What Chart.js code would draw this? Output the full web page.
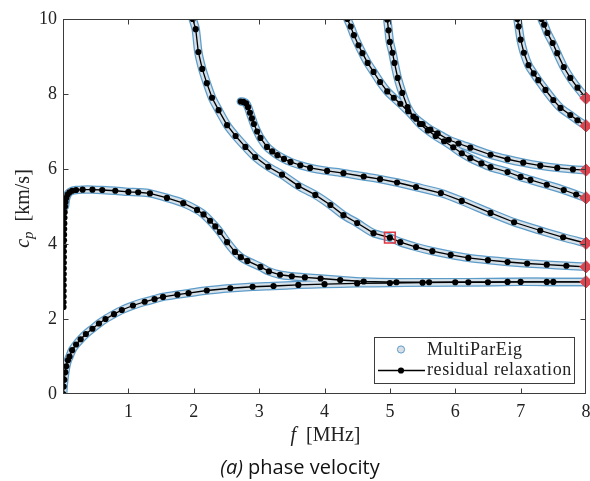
<!DOCTYPE html>
<html>
<head>
<meta charset="utf-8">
<title>Phase velocity</title>
<script src="https://cdn.jsdelivr.net/npm/chart.js@4.4.1/dist/chart.umd.min.js"></script>
<style>
  html, body { margin: 0; padding: 0; background: #fff; overflow: hidden; }
  #wrap { position: relative; width: 590px; height: 481px; }
  #chart { display: block; }
  #caption {
    position: absolute; left: 0; top: 454px; width: 600px; text-align: center;
    font-family: "Open Sans", "DejaVu Sans", sans-serif; font-size: 20px; color: #111;
    line-height: 26px;
  }
</style>
</head>
<body>
<div id="wrap">
  <canvas id="chart" width="590" height="481"></canvas>
  <div id="caption"><i>(a)</i> phase velocity</div>
</div>
<script>
// Dispersion curves: frequency f [MHz] vs phase velocity c_p [km/s]

// fundamental antisymmetric mode
const modeA0 = [
  [0.003, 0.0], [0.01, 0.2], [0.02, 0.38], [0.035, 0.58], [0.05, 0.74], [0.075, 0.9],
  [0.1, 1.0], [0.14, 1.17], [0.2, 1.32], [0.27, 1.46], [0.35, 1.6], [0.45, 1.74],
  [0.55, 1.88], [0.65, 2.0], [0.78, 2.13], [0.9, 2.24], [1.07, 2.36], [1.25, 2.46],
  [1.4, 2.53], [1.53, 2.59], [1.75, 2.65], [1.92, 2.69], [2.2, 2.76], [2.56, 2.82],
  [2.9, 2.86], [3.22, 2.88], [3.6, 2.91], [4.0, 2.93], [4.5, 2.95], [5.0, 2.96],
  [5.5, 2.97], [6.0, 2.98], [6.5, 2.98], [7.0, 2.99], [7.5, 2.99], [8.0, 2.99]
];

// low-frequency branch found only by residual relaxation
const modeS0Low = [
  [0.008, 2.32], [0.008, 2.45], [0.009, 2.6], [0.009, 2.75], [0.01, 2.9], [0.01, 3.05],
  [0.011, 3.2], [0.011, 3.35], [0.012, 3.5], [0.012, 3.65], [0.013, 3.8], [0.014, 3.95],
  [0.015, 4.1], [0.016, 4.25], [0.018, 4.4], [0.02, 4.55], [0.022, 4.7], [0.025, 4.85]
];

// fundamental symmetric mode
const modeS0 = [
  [0.03, 5.0], [0.038, 5.12], [0.05, 5.23], [0.07, 5.32], [0.1, 5.38], [0.14, 5.42],
  [0.2, 5.44], [0.3, 5.45], [0.45, 5.45], [0.6, 5.44], [0.8, 5.42], [1.0, 5.39],
  [1.15, 5.38], [1.33, 5.35], [1.59, 5.23], [1.84, 5.09], [2.05, 4.91], [2.15, 4.79],
  [2.25, 4.62], [2.33, 4.47], [2.4, 4.32], [2.51, 4.05], [2.63, 3.79], [2.72, 3.65],
  [2.82, 3.55], [3.02, 3.39], [3.15, 3.27], [3.32, 3.18], [3.5, 3.14], [3.7, 3.11],
  [3.94, 3.08], [4.24, 3.04], [4.6, 3.0], [5.1, 2.98], [5.6, 2.98], [6.2, 2.98],
  [6.8, 2.99], [7.4, 2.99], [8.0, 2.99]
];

// higher-order modes
const mode1 = [
  [1.985, 10.0], [2.03, 9.73], [2.07, 9.12], [2.13, 8.67], [2.2, 8.29], [2.28, 7.9],
  [2.38, 7.57], [2.51, 7.17], [2.64, 6.88], [2.79, 6.59], [2.94, 6.32], [3.14, 6.06],
  [3.35, 5.85], [3.6, 5.55], [3.86, 5.31], [4.09, 5.04], [4.29, 4.77], [4.5, 4.56],
  [4.75, 4.29], [5.0, 4.17], [5.16, 4.05], [5.4, 3.92], [5.65, 3.81], [5.93, 3.71],
  [6.2, 3.63], [6.5, 3.57], [6.8, 3.52], [7.1, 3.48], [7.4, 3.45], [7.7, 3.42], [8.0, 3.39]
];

const mode2 = [
  [2.72, 7.8], [2.76, 7.79], [2.8, 7.75], [2.83, 7.65], [2.86, 7.5], [2.89, 7.35],
  [2.92, 7.2], [2.97, 7.0], [3.02, 6.83], [3.12, 6.59], [3.2, 6.47], [3.28, 6.37],
  [3.38, 6.27], [3.48, 6.19], [3.63, 6.1], [3.78, 6.03], [4.04, 5.95], [4.29, 5.89],
  [4.6, 5.8], [4.85, 5.73], [5.11, 5.64], [5.4, 5.52], [5.78, 5.36], [6.1, 5.15],
  [6.54, 4.83], [6.9, 4.58], [7.3, 4.36], [7.65, 4.18], [8.0, 4.02]
];

const mode3 = [
  [4.35, 10.0], [4.4, 9.8], [4.45, 9.57], [4.52, 9.3], [4.58, 9.09], [4.66, 8.83],
  [4.75, 8.59], [4.85, 8.32], [4.96, 8.07], [5.06, 7.9], [5.16, 7.74], [5.28, 7.54],
  [5.4, 7.34], [5.5, 7.2], [5.62, 7.05], [5.73, 6.95], [5.9, 6.78], [6.05, 6.68],
  [6.23, 6.57], [6.54, 6.38], [6.8, 6.26], [7.04, 6.17], [7.3, 6.09], [7.56, 6.03],
  [7.8, 5.99], [8.0, 5.97]
];

const mode4 = [
  [4.96, 9.99], [4.98, 9.7], [5.0, 9.39], [5.04, 9.1], [5.07, 8.83], [5.12, 8.43],
  [5.19, 8.03], [5.27, 7.65], [5.36, 7.4], [5.46, 7.2], [5.58, 7.03], [5.7, 6.88],
  [5.83, 6.74], [5.97, 6.58], [6.1, 6.42], [6.23, 6.29], [6.4, 6.15], [6.54, 6.05],
  [6.8, 5.92], [7.0, 5.79], [7.15, 5.71], [7.4, 5.58], [7.66, 5.44], [7.85, 5.32], [8.0, 5.23]
];

const mode5 = [
  [6.95, 10.0], [6.97, 9.8], [7.0, 9.45], [7.05, 9.1], [7.12, 8.77], [7.2, 8.55],
  [7.27, 8.37], [7.38, 8.11], [7.5, 7.84], [7.61, 7.63], [7.76, 7.44], [7.87, 7.3], [8.0, 7.15]
];

const mode6 = [
  [7.32, 10.0], [7.36, 9.85], [7.41, 9.63], [7.49, 9.36], [7.56, 9.09], [7.66, 8.72],
  [7.76, 8.43], [7.87, 8.17], [8.0, 7.89]
];

// velocities at the upper frequency limit
const endF = [8, 8, 8, 8, 8, 8, 8];
const endC = [7.89, 7.15, 5.97, 5.23, 4.02, 3.39, 2.99];

// highlighted sample point
const markF = [5.0];
const markC = [4.17];

const xTicks = [0, 1, 2, 3, 4, 5, 6, 7, 8];
const yTicks = [0, 2, 4, 6, 8, 10];

const SERIF = '"Liberation Serif", "Times New Roman", serif';
const BAND_EDGE = '#5d9cc9';
const BAND_FILL = '#d6e1ea';

// plot area edges in canvas pixels
const PLOT_LEFT = 63, PLOT_TOP = 19, PLOT_RIGHT = 586, PLOT_BOTTOM = 394;

const toXY = pts => pts.map(([x, y]) => ({ x, y }));

const multiParEig = [modeA0, modeS0, mode1, mode2, mode3, mode4, mode5, mode6];
const relaxation = [modeA0, modeS0Low.concat(modeS0), mode1, mode2, mode3, mode4, mode5, mode6];

const datasets = [];

// red markers on top
datasets.push({
  label: 'end', data: endF.map((f, i) => ({ x: f, y: endC[i] })),
  showLine: false, pointStyle: 'rectRot', pointRadius: 6.2,
  pointBackgroundColor: '#dc4450', pointBorderColor: '#dc4450', pointBorderWidth: 1,
  order: -2, clip: false
});
datasets.push({
  label: 'mark', data: markF.map((f, i) => ({ x: f, y: markC[i] })),
  showLine: false, pointStyle: 'rect', pointRadius: 7.5,
  pointBackgroundColor: 'rgba(0,0,0,0)', pointBorderColor: '#e0353f', pointBorderWidth: 1.6,
  order: -1, clip: false
});

// residual relaxation: black line with dots
relaxation.forEach(pts => datasets.push({
  label: 'residual relaxation', data: toXY(pts), showLine: true, tension: 0,
  borderColor: '#000', borderWidth: 1.3,
  pointRadius: 3.1, pointBackgroundColor: '#000', pointBorderWidth: 0,
  order: 0, clip: 0
}));

// MultiParEig: band of circles (light interior, blue rim)
multiParEig.forEach(pts => datasets.push({
  label: 'MultiParEig', data: toXY(pts), showLine: true, tension: 0.25,
  borderColor: BAND_FILL, borderWidth: 6, pointRadius: 0,
  borderCapStyle: 'round', borderJoinStyle: 'round', order: 1, clip: 0
}));
multiParEig.forEach(pts => datasets.push({
  label: 'MultiParEig', data: toXY(pts), showLine: true, tension: 0.25,
  borderColor: BAND_EDGE, borderWidth: 8.5, pointRadius: 0,
  borderCapStyle: 'round', borderJoinStyle: 'round', order: 2, clip: 0
}));

// pin the plot area so tick-label overhang does not shrink it
const plotAreaPlugin = {
  id: 'plotArea',
  afterLayout(chart) {
    const a = chart.chartArea, { x, y } = chart.scales;
    a.left = PLOT_LEFT; a.right = PLOT_RIGHT; a.top = PLOT_TOP; a.bottom = PLOT_BOTTOM;
    a.width = a.right - a.left; a.height = a.bottom - a.top;
    x.left = a.left; x.right = a.right; x.width = a.width;
    y.top = a.top; y.bottom = a.bottom; y.height = a.height;
    [x, y].forEach(s => { s.configure(); s._labelItems = null; s._gridLineItems = null; });
  }
};

// frame with inward tick marks on all four sides
const framePlugin = {
  id: 'frame',
  afterDatasetsDraw(chart) {
    const { ctx, chartArea: a, scales: { x, y } } = chart;
    const L = Math.round(a.left) + 0.5, R = Math.round(a.right) - 0.5;
    const T = Math.round(a.top) + 0.5, B = Math.round(a.bottom) - 0.5;
    ctx.save();
    ctx.strokeStyle = '#3c3c3c';
    ctx.lineWidth = 1;
    ctx.strokeRect(L, T, R - L, B - T);
    const len = 5;
    ctx.beginPath();
    xTicks.slice(1, -1).forEach(v => {
      const px = Math.round(x.getPixelForValue(v)) + 0.5;
      ctx.moveTo(px, B); ctx.lineTo(px, B - len);
      ctx.moveTo(px, T); ctx.lineTo(px, T + len);
    });
    yTicks.slice(1, -1).forEach(v => {
      const py = Math.round(y.getPixelForValue(v)) + 0.5;
      ctx.moveTo(L, py); ctx.lineTo(L + len, py);
      ctx.moveTo(R, py); ctx.lineTo(R - len, py);
    });
    ctx.stroke();
    ctx.restore();
  }
};

// axis titles with italic symbols and subscript
const titlePlugin = {
  id: 'titles',
  afterDraw(chart) {
    const { ctx, chartArea: a } = chart;
    ctx.save();
    ctx.fillStyle = '#222';
    ctx.textBaseline = 'alphabetic';
    // x title: f [MHz]
    const it = 'italic 20px ' + SERIF, rm = '20px ' + SERIF, sub = 'italic 15px ' + SERIF;
    ctx.font = it; const wf = ctx.measureText('f').width;
    ctx.font = rm; const wr = ctx.measureText('  [MHz]').width;
    const x0 = (a.left + a.right) / 2 - (wf + wr) / 2 + 1;
    ctx.font = it; ctx.fillText('f', x0, 441);
    ctx.font = rm; ctx.fillText('  [MHz]', x0 + wf, 441);
    // y title: c_p [km/s]
    ctx.translate(29, (a.top + a.bottom) / 2 + 2);
    ctx.rotate(-Math.PI / 2);
    ctx.font = it; const wc = ctx.measureText('c').width;
    ctx.font = sub; const wp = ctx.measureText('p').width;
    ctx.font = rm; const wk = ctx.measureText('  [km/s]').width;
    const s = -(wc + wp + wk) / 2;
    ctx.font = it; ctx.fillText('c', s, 0);
    ctx.font = sub; ctx.fillText('p', s + wc, 4);
    ctx.font = rm; ctx.fillText('  [km/s]', s + wc + wp, 0);
    ctx.restore();
  }
};

// legend box in the lower right corner
const legendPlugin = {
  id: 'boxLegend',
  afterDraw(chart) {
    const { ctx, chartArea: a } = chart;
    const w = 200, h = 46;
    const bx = Math.round(a.right) - 12 - w, by = Math.round(a.bottom) - 11 - h;
    ctx.save();
    ctx.fillStyle = '#fff';
    ctx.fillRect(bx, by, w, h);
    ctx.strokeStyle = '#3c3c3c'; ctx.lineWidth = 1;
    ctx.strokeRect(bx + 0.5, by + 0.5, w, h);
    const y1 = by + 12.5, y2 = by + 33.5;
    const mx = bx + 27;
    // circle marker
    ctx.beginPath(); ctx.arc(mx, y1, 3.6, 0, Math.PI * 2);
    ctx.fillStyle = '#d8dfe6'; ctx.fill();
    ctx.strokeStyle = BAND_EDGE; ctx.lineWidth = 1; ctx.stroke();
    // line with dot
    ctx.beginPath(); ctx.moveTo(bx + 4, y2); ctx.lineTo(bx + 51, y2);
    ctx.strokeStyle = '#000'; ctx.lineWidth = 1.3; ctx.stroke();
    ctx.beginPath(); ctx.arc(mx, y2, 3.1, 0, Math.PI * 2);
    ctx.fillStyle = '#000'; ctx.fill();
    // labels
    ctx.fillStyle = '#222';
    ctx.font = '18px ' + SERIF;
    ctx.textBaseline = 'middle';
    if ('letterSpacing' in ctx) ctx.letterSpacing = '0.6px';
    ctx.fillText('MultiParEig', bx + 53, y1 + 1);
    ctx.fillText('residual relaxation', bx + 53, y2);
    ctx.restore();
  }
};

new Chart(document.getElementById('chart'), {
  type: 'scatter',
  data: { datasets },
  options: {
    responsive: false,
    animation: false,
    devicePixelRatio: 1,
    layout: { padding: { top: 19, right: 4, left: 0, bottom: 0 } },
    plugins: { legend: { display: false }, tooltip: { enabled: false } },
    elements: { line: { fill: false } },
    scales: {
      x: {
        type: 'linear', min: 0, max: 8,
        afterFit: s => { s.height = 87; },
        afterBuildTicks: s => { s.ticks = xTicks.map(v => ({ value: v })); },
        grid: { display: false, drawTicks: false },
        border: { display: false },
        ticks: {
          padding: 7, color: '#222', font: { family: SERIF, size: 18 },
          callback: v => (v === 0 ? '' : String(v))
        }
      },
      y: {
        type: 'linear', min: 0, max: 10,
        afterFit: s => { s.width = 63; },
        afterBuildTicks: s => { s.ticks = yTicks.map(v => ({ value: v })); },
        grid: { display: false, drawTicks: false },
        border: { display: false },
        ticks: {
          padding: 6, color: '#222', font: { family: SERIF, size: 18 },
          callback: v => String(v)
        }
      }
    }
  },
  plugins: [plotAreaPlugin, framePlugin, titlePlugin, legendPlugin]
});
</script>
</body>
</html>
